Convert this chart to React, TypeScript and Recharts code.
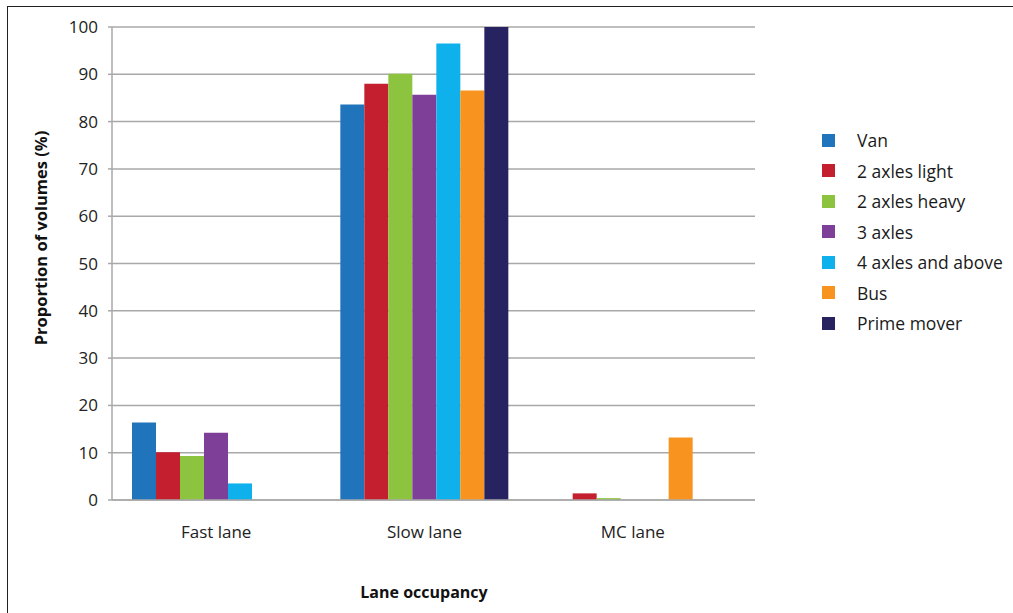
import React from "react";
import { BarChart, Bar, XAxis, YAxis, CartesianGrid, Legend, Label } from "recharts";

// lane categories along the x axis
const lanes = ["Fast lane", "Slow lane", "MC lane"];

// share of each vehicle class per lane (%)
const van = [16.4, 83.6, 0];
const axles2Light = [10.1, 88.0, 1.4];
const axles2Heavy = [9.3, 90.1, 0.4];
const axles3 = [14.2, 85.7, 0];
const axles4Plus = [3.5, 96.5, 0];
const bus = [0, 86.6, 13.2];
const primeMover = [0, 100, 0];

const yTicks = [0, 10, 20, 30, 40, 50, 60, 70, 80, 90, 100];

const series = [
  { key: "van", name: "Van", color: "#1f74bb", values: van },
  { key: "light", name: "2 axles light", color: "#c41f2f", values: axles2Light },
  { key: "heavy", name: "2 axles heavy", color: "#8cc43f", values: axles2Heavy },
  { key: "a3", name: "3 axles", color: "#7e3f98", values: axles3 },
  { key: "a4", name: "4 axles and above", color: "#0eb1ec", values: axles4Plus },
  { key: "bus", name: "Bus", color: "#f7931e", values: bus },
  { key: "prime", name: "Prime mover", color: "#272360", values: primeMover },
];

const data = lanes.map((lane, i) => {
  const row: Record<string, string | number> = { lane };
  series.forEach((s) => {
    row[s.key] = s.values[i];
  });
  return row;
});

const FONT = "'Open Sans', Lato, sans-serif";
const GRID = "#a8a8a8";

const renderLegend = () => (
  <div style={{ fontFamily: FONT, fontSize: 17.5, color: "#1a1a1a" }}>
    {series.map((s) => (
      <div key={s.key} style={{ display: "flex", alignItems: "center", height: 30.5 }}>
        <span style={{ display: "inline-block", width: 13, height: 13, background: s.color, marginRight: 22 }} />
        <span>{s.name}</span>
      </div>
    ))}
  </div>
);

export default function App() {
  return (
    <div style={{ position: "absolute", left: 0, top: 0, width: 1013, height: 613, overflow: "hidden", background: "#fff" }}>
      <div style={{ position: "absolute", left: 7, top: 6, width: 1100, height: 700, border: "1px solid #222" }} />
      <BarChart
        width={1013}
        height={613}
        data={data}
        margin={{ top: 27, right: 258, bottom: 83, left: 52 }}
        barSize={24}
        barGap={0}
      >
        <CartesianGrid vertical={false} stroke={GRID} strokeWidth={1.5} />
        <XAxis
          dataKey="lane"
          height={30}
          padding={{ left: 0, right: 18 }}
          tickLine={false}
          axisLine={{ stroke: GRID, strokeWidth: 1.5 }}
          tick={{ fontFamily: FONT, fontSize: 17, fill: "#222" }}
          dy={18}
        >
          <Label
            content={() => (
              <text x={424} y={592} textAnchor="middle" dominantBaseline="central" fontFamily={FONT} fontSize={16} fontWeight="bold" fill="#111">
                Lane occupancy
              </text>
            )}
          />
        </XAxis>
        <YAxis
          width={60}
          domain={[0, 100]}
          ticks={yTicks}
          interval={0}
          tickSize={4}
          tickLine={{ stroke: GRID, strokeWidth: 1.5 }}
          axisLine={{ stroke: GRID, strokeWidth: 1.5 }}
          tick={{ fontFamily: FONT, fontSize: 17, fill: "#222" }}
          tickMargin={10}
        >
          <Label
            content={() => (
              <text
                x={40}
                y={238}
                transform="rotate(-90 40 238)"
                textAnchor="middle"
                dominantBaseline="central"
                fontFamily={FONT}
                fontSize={16.5}
                fontWeight="bold"
                fill="#111"
              >
                Proportion of volumes (%)
              </text>
            )}
          />
        </YAxis>
        <Legend
          layout="vertical"
          align="center"
          verticalAlign="middle"
          content={renderLegend}
          wrapperStyle={{ left: 822, top: 125, width: 190 }}
        />
        {series.map((s) => (
          <Bar key={s.key} dataKey={s.key} name={s.name} fill={s.color} isAnimationActive={false} />
        ))}
      </BarChart>
    </div>
  );
}
